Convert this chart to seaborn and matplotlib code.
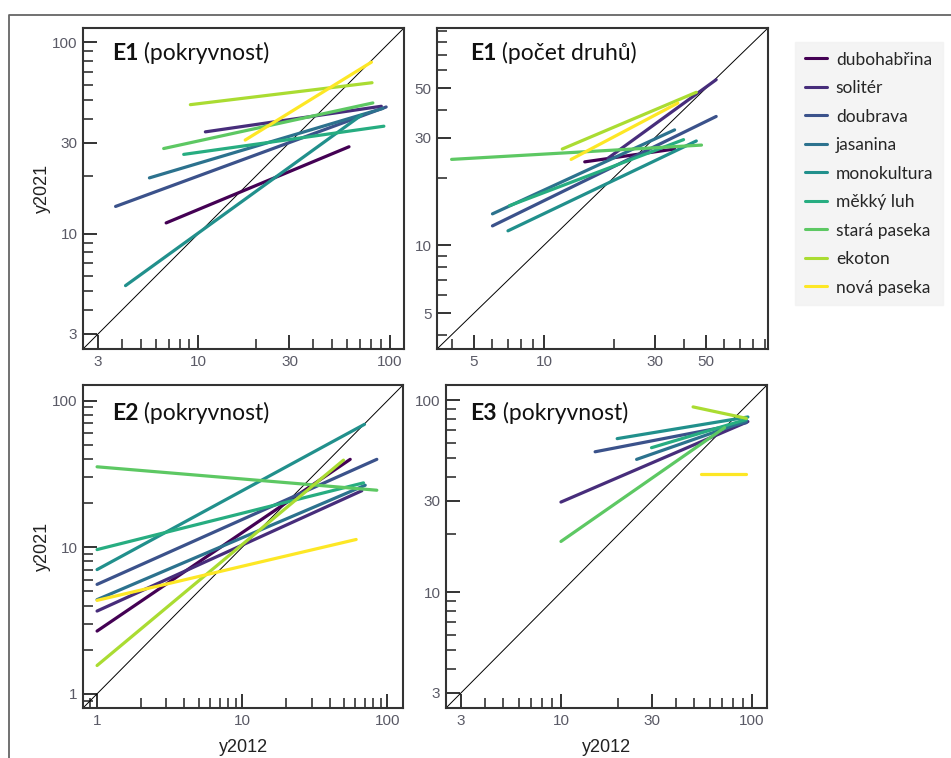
import numpy as np
import pandas as pd
import matplotlib
matplotlib.use("Agg")
import matplotlib.pyplot as plt
import matplotlib.ticker as mticker
from matplotlib.lines import Line2D
import seaborn as sns

habitats = ["dubohabřina", "solitér", "doubrava", "jasanina", "monokultura",
            "měkký luh", "stará paseka", "ekoton", "nová paseka"]

# E1 (pokryvnost): start and end of each fitted line
e1_cov_x0 = [6.8, 10.9, 3.7, 5.56, 4.17, 8.4, 6.6, 9.1, 17.6]
e1_cov_y0 = [11.4, 34.1, 13.9, 19.6, 5.36, 26.0, 27.9, 47.3, 30.9]
e1_cov_x1 = [61.4, 90.6, 96.0, 92.2, 71.3, 93.4, 81.8, 81.0, 80.4]
e1_cov_y1 = [28.5, 46.4, 46.0, 45.2, 41.7, 36.5, 48.3, 61.6, 78.9]

# E1 (počet druhů)
e1_sp_x0 = [15.0, 18.9, 6.0, 6.0, 7.0, 7.1, 4.0, 12.0, 13.1]
e1_sp_y0 = [23.5, 24.4, 12.2, 13.8, 11.6, 15.0, 24.1, 26.8, 24.1]
e1_sp_x1 = [36.6, 55.3, 55.3, 36.6, 45.4, 40.0, 47.8, 45.4, 37.8]
e1_sp_y1 = [26.8, 54.5, 37.4, 32.6, 29.1, 29.5, 27.9, 47.9, 42.9]

# E2 (pokryvnost)
e2_cov_x0 = [1, 1, 1, 1, 1, 1, 1, 1, 1]
e2_cov_y0 = [2.68, 3.67, 5.58, 4.39, 7.04, 9.64, 35.4, 1.56, 4.34]
e2_cov_x1 = [55.4, 66.6, 84.5, 70.3, 69.5, 68.4, 84.5, 49.8, 60.9]
e2_cov_y1 = [39.8, 24.3, 39.8, 26.5, 69.0, 27.5, 24.5, 39.3, 11.3]

# E3 (pokryvnost), no dubohabřina line
e3_cov_x0 = [np.nan, 10.0, 15.1, 24.9, 19.7, 29.8, 10.0, 49.2, 54.0]
e3_cov_y0 = [np.nan, 29.5, 53.9, 49.2, 63.1, 56.6, 18.4, 92.3, 41.5]
e3_cov_x1 = [np.nan, 95.3, 93.5, 93.5, 95.3, 93.5, 72.0, 93.5, 92.7]
e3_cov_y1 = [np.nan, 77.4, 76.4, 77.9, 81.8, 79.4, 72.0, 80.5, 41.5]

viridis9 = ["#440154", "#472D7B", "#3B528B", "#2C728E", "#21908C",
            "#27AD81", "#5DC863", "#AADC32", "#FDE725"]


def make_frame(x0, y0, x1, y1):
    rows = []
    for h, a, b, c, d in zip(habitats, x0, y0, x1, y1):
        rows.append({"habitat": h, "y2012": a, "y2021": b})
        rows.append({"habitat": h, "y2012": c, "y2021": d})
    return pd.DataFrame(rows).dropna()


sns.set_theme(style="white")
plt.rcParams["font.family"] = ["Liberation Sans", "DejaVu Sans"]

fig = plt.figure(figsize=(9.51, 7.58), dpi=100)

W, H = 951, 758
def box(l, t, r, b):
    return [l / W, 1 - b / H, (r - l) / W, (b - t) / H]

panels = [
    (box(83, 28, 404, 349), make_frame(e1_cov_x0, e1_cov_y0, e1_cov_x1, e1_cov_y1),
     (2.5, 119), [3, 10, 30, 100], "E1", " (pokryvnost)", (0.09, 0.90), False, True),
    (box(437, 28, 768, 349), make_frame(e1_sp_x0, e1_sp_y0, e1_sp_x1, e1_sp_y1),
     (3.46, 92.5), [5, 10, 30, 50], "E1", " (počet druhů)", (0.10, 0.90), False, False),
    (box(83, 385, 403, 708), make_frame(e2_cov_x0, e2_cov_y0, e2_cov_x1, e2_cov_y1),
     (0.8, 128), [1, 10, 100], "E2", " (pokryvnost)", (0.09, 0.892), True, True),
    (box(446, 385, 767, 708), make_frame(e3_cov_x0, e3_cov_y0, e3_cov_x1, e3_cov_y1),
     (2.5, 120), [3, 10, 30, 100], "E3", " (pokryvnost)", (0.075, 0.892), True, False),
]

minor_all = [m * 10.0 ** k for k in range(-1, 3) for m in range(2, 10)]

for rect, df, lims, major, bold, rest, tpos, show_x, show_y in panels:
    ax = fig.add_axes(rect)
    sns.lineplot(data=df, x="y2012", y="y2021", hue="habitat", hue_order=habitats,
                 palette=viridis9, estimator=None, units="habitat", sort=False,
                 lw=2.3, legend=False, ax=ax)
    ax.set_xscale("log")
    ax.set_yscale("log")
    ax.set_xlim(lims)
    ax.set_ylim(lims)
    ax.axline((1, 1), (10, 10), color="black", lw=0.7, zorder=1)

    minor = [m for m in minor_all if lims[0] <= m <= lims[1] and m not in major]
    for axis in (ax.xaxis, ax.yaxis):
        axis.set_major_locator(mticker.FixedLocator(major))
        axis.set_major_formatter(mticker.FixedFormatter([str(v) for v in major]))
        axis.set_minor_locator(mticker.FixedLocator(minor))
        axis.set_minor_formatter(mticker.NullFormatter())
    ax.tick_params(which="major", direction="in", length=10, width=1.4,
                   color="#333333", labelsize=11, labelcolor="#5a5a66",
                   left=True, bottom=True, pad=4)
    ax.tick_params(which="minor", direction="in", length=7, width=1.2,
                   color="#333333", left=True, bottom=True)
    for sp in ax.spines.values():
        sp.set_color("#333333")
        sp.set_linewidth(1.5)

    ax.set_xlabel("y2012" if show_x else "", fontsize=13, color="#222222", labelpad=8)
    ax.set_ylabel("y2021" if show_y else "", fontsize=13, color="#222222", labelpad=1)

    t1 = ax.text(tpos[0], tpos[1], bold, transform=ax.transAxes, fontsize=16.5,
                 fontweight="bold", family="Lato", color="#111111", va="baseline")
    ax.annotate(rest, xy=(1, 0), xycoords=t1, va="bottom", ha="left",
                fontsize=16.5, family="Lato", color="#111111")

handles = [Line2D([], [], color=c, lw=2.2) for c in viridis9]
leg = fig.legend(handles, habitats, loc="upper left", bbox_to_anchor=(795 / W, 1 - 42 / H),
                 borderaxespad=0, frameon=True, fancybox=False, facecolor="#f2f2f2",
                 edgecolor="#f2f2f2", prop={"family": "Lato", "size": 12.5},
                 handlelength=1.3, handletextpad=0.5, labelspacing=0.72,
                 borderpad=0.55)

# thin frame line around the figure area
fig.add_artist(Line2D([9 / W, 9 / W, 1], [0, 1 - 15 / H, 1 - 15 / H],
                      transform=fig.transFigure, color="#666666", lw=1.3))

fig.savefig("out.png", dpi=100)
